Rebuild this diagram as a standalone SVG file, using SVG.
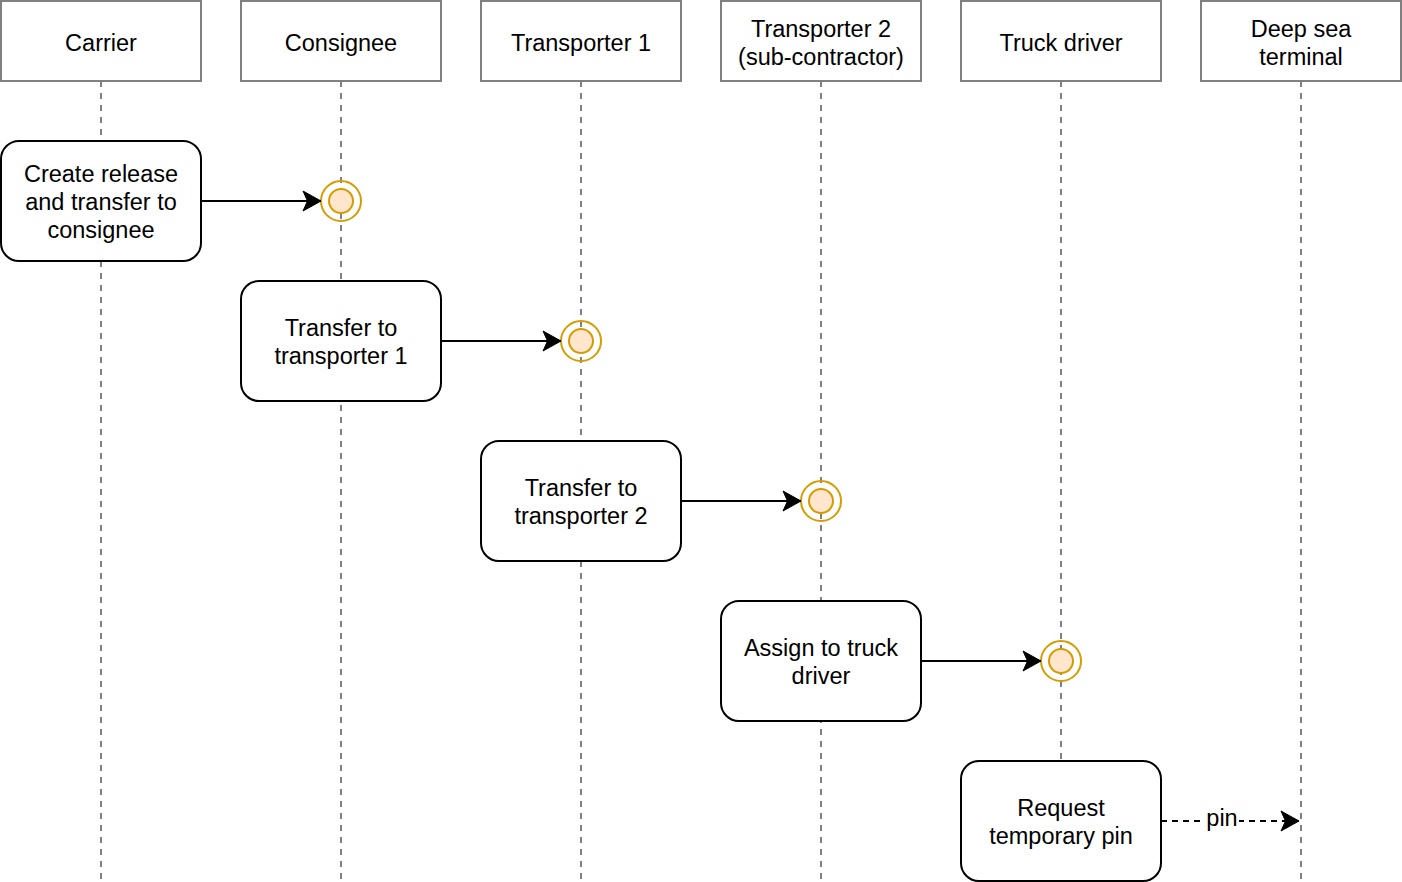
<svg xmlns="http://www.w3.org/2000/svg" width="1402" height="882" viewBox="0 0 1402 882">
<style>
.hdr{fill:#fff;stroke:#808080;stroke-width:2}
.life{stroke:#808080;stroke-width:2;stroke-dasharray:6 6;fill:none}
.act{fill:#fff;stroke:#000;stroke-width:2}
.t{font-family:"Liberation Sans",Arial,Helvetica,sans-serif;font-size:23.5px;fill:#000;text-anchor:middle}
.ev-o{fill:none;stroke:#d79b00;stroke-width:2}
.ev-i{fill:#ffe6cc;stroke:#d79b00;stroke-width:2}
.edge{stroke:#000;stroke-width:2;fill:none}
.dash{stroke-dasharray:6 5}
</style>
<defs>
<marker id="arr" markerUnits="userSpaceOnUse" markerWidth="20" markerHeight="22" refX="19" refY="11" orient="auto" viewBox="0 0 20 22">
<path d="M19,11 L1,1 L5.5,11 L1,21 Z" fill="#000" stroke="#000" stroke-width="1"/>
</marker>
</defs>
<rect width="1402" height="882" fill="#fff"/>
<g id="lifelines">
<line class="life" x1="101" y1="81" x2="101" y2="882"/>
<line class="life" x1="341" y1="81" x2="341" y2="882"/>
<line class="life" x1="581" y1="81" x2="581" y2="882"/>
<line class="life" x1="821" y1="81" x2="821" y2="882"/>
<line class="life" x1="1061" y1="81" x2="1061" y2="882"/>
<line class="life" x1="1301" y1="81" x2="1301" y2="882"/>
</g>
<g id="h-carrier"><rect class="hdr" x="1" y="1" width="200" height="80"/><text class="t" x="101" y="51">Carrier</text></g>
<g id="h-consignee"><rect class="hdr" x="241" y="1" width="200" height="80"/><text class="t" x="341" y="51">Consignee</text></g>
<g id="h-transporter1"><rect class="hdr" x="481" y="1" width="200" height="80"/><text class="t" x="581" y="51">Transporter 1</text></g>
<g id="h-transporter2"><rect class="hdr" x="721" y="1" width="200" height="80"/><text class="t" x="821" y="37">Transporter 2</text><text class="t" x="821" y="65">(sub-contractor)</text></g>
<g id="h-truckdriver"><rect class="hdr" x="961" y="1" width="200" height="80"/><text class="t" x="1061" y="51">Truck driver</text></g>
<g id="h-deepsea"><rect class="hdr" x="1201" y="1" width="200" height="80"/><text class="t" x="1301" y="37">Deep sea</text><text class="t" x="1301" y="65">terminal</text></g>

<g id="a-create"><rect class="act" x="1" y="141" width="200" height="120" rx="18"/><text class="t" x="101" y="182">Create release</text><text class="t" x="101" y="210">and transfer to</text><text class="t" x="101" y="238">consignee</text></g>
<g id="a-transfer1"><rect class="act" x="241" y="281" width="200" height="120" rx="18"/><text class="t" x="341" y="336">Transfer to</text><text class="t" x="341" y="364">transporter 1</text></g>
<g id="a-transfer2"><rect class="act" x="481" y="441" width="200" height="120" rx="18"/><text class="t" x="581" y="496">Transfer to</text><text class="t" x="581" y="524">transporter 2</text></g>
<g id="a-assign"><rect class="act" x="721" y="601" width="200" height="120" rx="18"/><text class="t" x="821" y="656">Assign to truck</text><text class="t" x="821" y="684">driver</text></g>
<g id="a-request"><rect class="act" x="961" y="761" width="200" height="120" rx="18"/><text class="t" x="1061" y="816">Request</text><text class="t" x="1061" y="844">temporary pin</text></g>

<g id="e-consignee"><circle class="ev-o" cx="341" cy="201" r="20"/><circle class="ev-i" cx="341" cy="201" r="12"/></g>
<g id="e-transporter1"><circle class="ev-o" cx="581" cy="341" r="20"/><circle class="ev-i" cx="581" cy="341" r="12"/></g>
<g id="e-transporter2"><circle class="ev-o" cx="821" cy="501" r="20"/><circle class="ev-i" cx="821" cy="501" r="12"/></g>
<g id="e-truckdriver"><circle class="ev-o" cx="1061" cy="661" r="20"/><circle class="ev-i" cx="1061" cy="661" r="12"/></g>

<g id="connectors">
<line class="edge" x1="201" y1="201" x2="321" y2="201" marker-end="url(#arr)"/>
<line class="edge" x1="441" y1="341" x2="561" y2="341" marker-end="url(#arr)"/>
<line class="edge" x1="681" y1="501" x2="801" y2="501" marker-end="url(#arr)"/>
<line class="edge" x1="921" y1="661" x2="1041" y2="661" marker-end="url(#arr)"/>
<line class="edge dash" x1="1161" y1="821" x2="1299" y2="821" marker-end="url(#arr)"/>
<rect x="1205" y="808" width="34" height="24" fill="#fff"/>
<text class="t" x="1222" y="826">pin</text>
</g>
</svg>
